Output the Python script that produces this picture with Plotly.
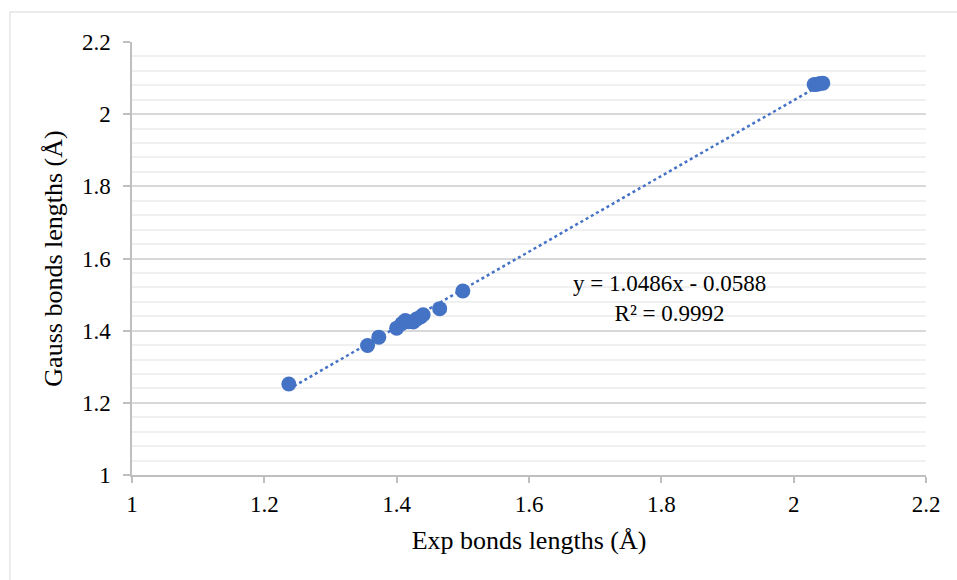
import numpy as np
import plotly.graph_objects as go

# Experimental vs. computed (Gaussian) bond lengths, in Å
exp_lengths = [1.237, 1.356, 1.373, 1.400, 1.408, 1.413, 1.418, 1.425, 1.430,
               1.436, 1.440, 1.465, 1.500, 2.031, 2.036, 2.040, 2.044]
gauss_lengths = [1.252, 1.359, 1.382, 1.407, 1.420, 1.428, 1.425, 1.424, 1.432,
                 1.438, 1.444, 1.461, 1.510, 2.082, 2.083, 2.085, 2.086]

# Linear trendline coefficients and fit quality
slope = 1.0486
intercept = -0.0588
r_squared = 0.9992

tick_vals = [1, 1.2, 1.4, 1.6, 1.8, 2, 2.2]
tick_text = ["1", "1.2", "1.4", "1.6", "1.8", "2", "2.2"]

blue = "#4472C4"
font_family = "Liberation Serif, Times New Roman, serif"

x_fit = np.linspace(min(exp_lengths), max(exp_lengths), 2)
y_fit = slope * x_fit + intercept

fig = go.Figure()
fig.add_trace(go.Scatter(
    x=x_fit, y=y_fit, mode="lines",
    line=dict(color=blue, width=2.5, dash="dot"),
    hoverinfo="skip", showlegend=False,
))
fig.add_trace(go.Scatter(
    x=exp_lengths, y=gauss_lengths, mode="markers",
    marker=dict(color=blue, size=15, line=dict(width=0)),
    showlegend=False,
))

eq_text = f"y = {slope:.4f}x - {abs(intercept):.4f}<br>R² = {r_squared:.4f}"
fig.add_annotation(
    x=1.812, y=1.49, xref="x", yref="y", text=eq_text, showarrow=False,
    font=dict(family=font_family, size=23, color="#000000"), align="center",
)

# light chart-area frame
fig.add_shape(type="rect", xref="paper", yref="paper",
              x0=-0.1537, x1=1.05, y0=-0.26, y1=1.0693,
              line=dict(color="#d9d9d9", width=1), fillcolor="rgba(0,0,0,0)",
              layer="below")

axis_font = dict(family=font_family, size=23, color="#000000")
title_font = dict(family=font_family, size=26, color="#000000")

fig.update_layout(
    width=957, height=580,
    margin=dict(l=132, r=31, t=42, b=105),
    paper_bgcolor="white", plot_bgcolor="white",
    font=dict(family=font_family),
    xaxis=dict(
        range=[1, 2.2], tickvals=tick_vals, ticktext=tick_text,
        showgrid=False, zeroline=False,
        showline=True, linecolor="#bfbfbf", linewidth=1.5,
        ticks="outside", ticklen=6, tickcolor="#bfbfbf", tickwidth=1.5,
        tickfont=axis_font, ticklabelstandoff=2,
        title=dict(text="Exp bonds lengths (Å)", font=title_font, standoff=14),
    ),
    yaxis=dict(
        range=[1, 2.2], tickvals=tick_vals, ticktext=tick_text,
        showgrid=True, gridcolor="#d9d9d9", gridwidth=1.5,
        minor=dict(dtick=0.04, tick0=1, showgrid=True,
                   gridcolor="#f0f0f0", gridwidth=1.5, ticks=""),
        zeroline=False,
        showline=True, linecolor="#bfbfbf", linewidth=1.5,
        ticks="outside", ticklen=7, tickcolor="#bfbfbf", tickwidth=1.5,
        tickfont=axis_font, ticklabelstandoff=8,
        title=dict(text="Gauss bonds lengths (Å)", font=title_font, standoff=12),
    ),
)

fig.write_html("out.html")
